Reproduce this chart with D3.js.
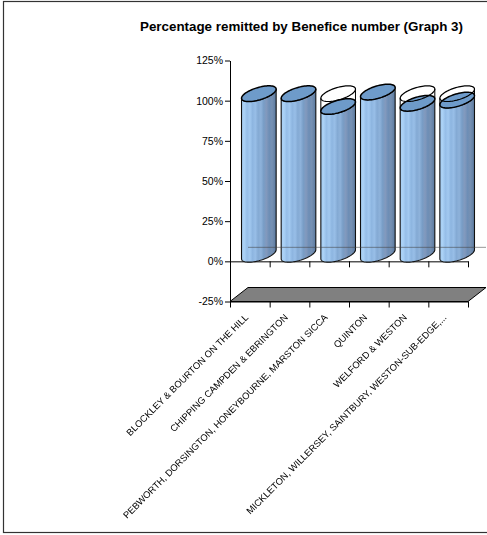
<!DOCTYPE html>
<html>
<head>
<meta charset="utf-8">
<script src="https://cdn.jsdelivr.net/npm/d3@7"></script>
<style>
  html, body { margin: 0; padding: 0; background: #fff; }
  svg { display: block; font-family: "Liberation Sans", Arial, sans-serif; }
  .cat-labels { opacity: 0.999; will-change: transform; }
</style>
</head>
<body>
<svg id="chart" width="487" height="535"></svg>
<script>
// chart values
const categories = [
    "BLOCKLEY & BOURTON ON THE HILL",
    "CHIPPING CAMPDEN & EBRINGTON",
    "PEBWORTH, DORSINGTON, HONEYBOURNE, MARSTON SICCA",
    "QUINTON",
    "WELFORD & WESTON",
    "MICKLETON, WILLERSEY, SAINTBURY, WESTON-SUB-EDGE,..."
];
const remitted = [100, 100, 92, 101, 94, 96];
const target = [100, 100, 100, 100, 100, 100];
const yTicks = [-25, 0, 25, 50, 75, 100, 125];
const titleText = "Percentage remitted by Benefice number (Graph 3)";

// depth of the 3d box (pixels)
const DX = 18, DY = -14;

let svg = d3.select("#chart");

// outer frame
svg.append("rect")
    .attr("x", 3.5).attr("y", 1.5)
    .attr("width", 520).attr("height", 531)
    .attr("fill", "#fff")
    .attr("stroke", "#333").attr("stroke-width", 1.2);

svg.append("text")
    .attr("x", 301.5).attr("y", 31)
    .attr("text-anchor", "middle")
    .attr("font-weight", "bold")
    .attr("font-size", 12)
    .attr("textLength", 323)
    .attr("lengthAdjust", "spacingAndGlyphs")
    .text(titleText);

let y = d3.scaleLinear().domain([-25, 125]).range([301.5, 60.5]);
let x = d3.scaleBand().domain(categories).range([230, 468]).padding(0);
let xEdge = d3.scaleLinear().domain([0, categories.length]).range([230, 468]);

// gradient for the cylinder body (light left, dark right, soft stripes)
let defs = svg.append("defs");
let grad = defs.append("linearGradient").attr("id", "cylBody")
    .attr("x1", "0").attr("x2", "1").attr("y1", "0").attr("y2", "0");
let bodyStops = [
    [0, "#a6cdf2"], [0.08, "#abd2f6"], [0.16, "#96bee8"], [0.24, "#a2c9f0"],
    [0.32, "#8db5e0"], [0.40, "#98bee7"], [0.48, "#84aad4"], [0.56, "#8eb2da"],
    [0.64, "#789dc6"], [0.72, "#8299bd"], [0.80, "#6d8eb6"], [0.88, "#7690b2"],
    [1, "#5a7aa0"]
];
bodyStops.forEach(function(s) {
    grad.append("stop").attr("offset", s[0]).attr("stop-color", s[1]);
});

// floor at -25%
let x0 = xEdge(0), x1 = xEdge(categories.length), yf = y(-25);
svg.append("path")
    .attr("d", "M" + x0 + "," + yf + "L" + x1 + "," + yf +
               "L" + (x1 + DX) + "," + (yf + DY) + "L" + (x0 + DX) + "," + (yf + DY) + "Z")
    .attr("fill", "#808080")
    .attr("stroke", "#000").attr("stroke-width", 1);

// y axis
let yAxis = d3.axisLeft(y)
    .tickValues(yTicks)
    .tickFormat(function(d) { return d + "%"; })
    .tickSize(5)
    .tickSizeOuter(0);
let gy = svg.append("g").attr("transform", "translate(230,0)").call(yAxis);
gy.select(".domain").attr("stroke", "#000");
gy.selectAll("line").attr("stroke", "#000");
gy.selectAll("text").attr("font-size", 10.5).attr("fill", "#000")
    .attr("font-family", "Liberation Sans, Arial, sans-serif").attr("dx", 1);

// horizontal axes at 0% and -25% with ticks on category boundaries
[0, -25].forEach(function(v) {
    let g = svg.append("g")
        .attr("transform", "translate(0," + y(v) + ")")
        .call(d3.axisBottom(xEdge)
            .tickValues(d3.range(categories.length + 1))
            .tickFormat("")
            .tickSize(6)
            .tickSizeOuter(0));
    g.select(".domain").attr("stroke", "#000");
    g.selectAll("line").attr("stroke", "#000");
});

// cylinders: ellipse = a*cos(t) along x, plus the depth direction scaled by sin(t)
let c = DX / 2 * 1.12, e = DY / 2 * 1.12;
let a = x.bandwidth() * 0.355;
let tR = Math.atan2(c, a);

function ePt(cx, cy, t) {
    return [cx + a * Math.cos(t) + c * Math.sin(t), cy + e * Math.sin(t)];
}
function arcPts(cx, cy, t0, t1, n) {
    let pts = [];
    for (let k = 0; k <= n; k++) pts.push(ePt(cx, cy, t0 + (t1 - t0) * k / n));
    return pts;
}
let line = d3.line();

function bodyPath(cx, yb, yt) {
    let bot = arcPts(cx, yb, tR - Math.PI, tR, 40);
    let top = arcPts(cx, yt, tR, tR - Math.PI, 40);
    return line(bot.concat(top)) + "Z";
}
function ellipsePath(cx, cy) {
    return line(arcPts(cx, cy, 0, 2 * Math.PI, 72)) + "Z";
}

let bars = svg.append("g");
categories.forEach(function(cat, i) {
    let cx = x(cat) + x.bandwidth() / 2 + DX / 2;
    let yb = y(0) + DY / 2;
    let yt = y(remitted[i]) + DY / 2;
    bars.append("path")
        .attr("d", bodyPath(cx, yb, yt))
        .attr("fill", "url(#cylBody)")
        .attr("stroke", "#111").attr("stroke-width", 1.1);
    bars.append("path")
        .attr("d", ellipsePath(cx, yt))
        .attr("fill", "#6e9bca")
        .attr("stroke", "#000").attr("stroke-width", 1.5);

    if (target[i] > remitted[i]) {
        let ytt = y(target[i]) + DY / 2;
        let l = ePt(cx, yt, tR - Math.PI), r = ePt(cx, yt, tR);
        let lt = ePt(cx, ytt, tR - Math.PI), rt = ePt(cx, ytt, tR);
        bars.append("path")
            .attr("d", "M" + l + "L" + lt + "M" + r + "L" + rt)
            .attr("fill", "none")
            .attr("stroke", "#000").attr("stroke-width", 1);
        bars.append("path")
            .attr("d", ellipsePath(cx, ytt))
            .attr("fill", "none")
            .attr("stroke", "#000").attr("stroke-width", 1.2);
    }
});

// back wall 0% line, seen through the cylinders
svg.append("line")
    .attr("x1", x0 + DX).attr("x2", x1 + DX)
    .attr("y1", y(0) + DY).attr("y2", y(0) + DY)
    .attr("stroke", "#444").attr("stroke-width", 1)
    .attr("opacity", 0.55);

// category labels
svg.append("g").attr("class", "cat-labels").selectAll("text")
    .data(categories)
    .join("text")
    .attr("transform", function(d) {
        return "translate(" + (x(d) + x.bandwidth() / 2 - 1) + ",318) rotate(-45)";
    })
    .attr("text-anchor", "end")
    .attr("font-size", 9.4)
    .attr("fill", "#000")
    .text(function(d) { return d; });
</script>
</body>
</html>
